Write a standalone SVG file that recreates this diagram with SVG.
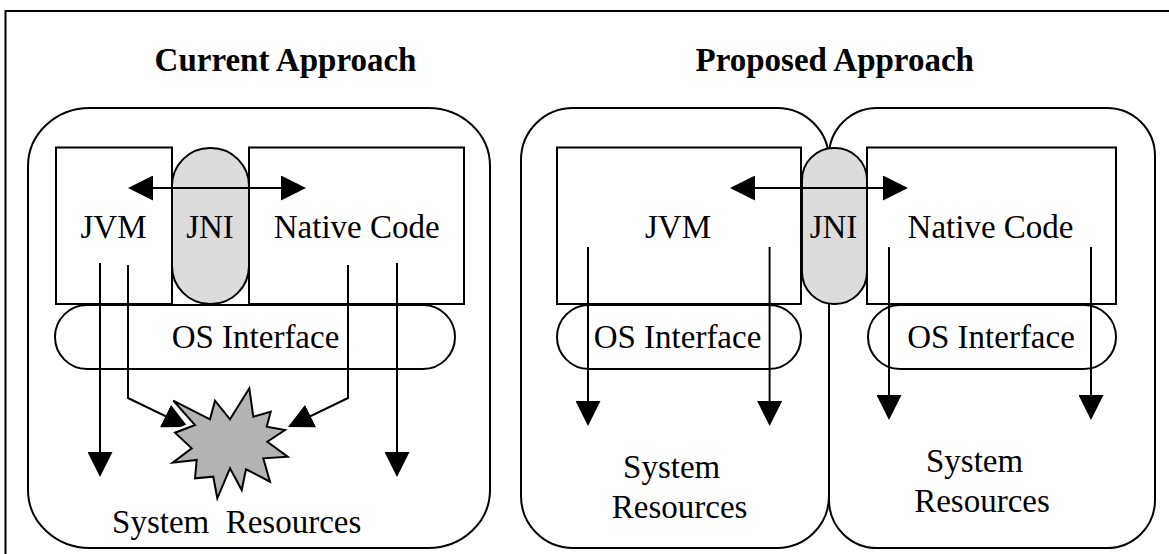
<svg xmlns="http://www.w3.org/2000/svg" xmlns:xlink="http://www.w3.org/1999/xlink" width="1169" height="554" viewBox="0 0 1169 554">
<style>
.ln{fill:none;stroke:#000;stroke-width:2}
.box{fill:#fff;stroke:#000;stroke-width:2}
.jni{fill:#dcdcdc;stroke:#000;stroke-width:2}
.t{font-family:"Liberation Serif","Times New Roman",serif;font-size:33px;fill:#000;text-anchor:middle}
.title{font-weight:bold}
.arr{fill:none;stroke:#000;stroke-width:2;marker-end:url(#ah)}
.dbl{fill:none;stroke:#000;stroke-width:2;marker-end:url(#ah);marker-start:url(#ahs)}
</style>
<defs>
<marker id="ah" markerUnits="userSpaceOnUse" markerWidth="25" markerHeight="25" refX="20" refY="12.5" orient="auto"><path d="M0,0 L25,12.5 L0,25 z" fill="#000"/></marker>
<marker id="ahs" markerUnits="userSpaceOnUse" markerWidth="25" markerHeight="25" refX="20" refY="12.5" orient="auto-start-reverse"><path d="M0,0 L25,12.5 L0,25 z" fill="#000"/></marker>
<polygon id="star" points="173.3,400.7 210,419.3 215,400.7 230,419.3 249.3,388.3 253.3,416.7 270.7,411.7 266.7,426.7 285,430 267.3,441.7 287.7,456.7 263.3,458.3 270,481.7 246,469.3 241.7,490 230,468.3 217.3,498.3 213.3,476.7 195,478.3 196.7,460 172.7,462.7 191.7,448.3 175,432.7 195,425"/>
</defs>
<rect width="1169" height="554" fill="#fff"/>
<path id="frame" class="ln" d="M5.5,554 V11 H1169"/>

<g id="current">
<text class="t title" x="285.5" y="71">Current Approach</text>
<g id="cur-panel"><rect class="box" x="28" y="108" width="462" height="440" rx="62" ry="58"/></g>
<g id="cur-jvm"><rect class="box" x="56" y="147.5" width="116" height="156.5"/><text class="t" x="113.5" y="238">JVM</text></g>
<g id="cur-native"><rect class="box" x="249" y="147.5" width="215" height="156.5"/><text class="t" x="356.7" y="238">Native Code</text></g>
<g id="cur-jni"><rect class="jni" x="172" y="148" width="77" height="156" rx="38" ry="38"/><text class="t" x="210" y="238">JNI</text></g>
<g id="cur-os"><rect class="box" x="55" y="305" width="400" height="64" rx="32" ry="32"/><text class="t" x="255.5" y="348">OS Interface</text></g>
<g id="cur-res"><text class="t" x="236.7" y="533" style="white-space:pre">System  Resources</text></g>
</g>

<g id="proposed">
<text class="t title" x="834.7" y="71">Proposed Approach</text>
<g id="pro-panel-left"><rect class="box" x="521" y="108" width="308" height="440" rx="52" ry="52"/></g>
<g id="pro-panel-right"><rect class="box" x="829" y="108" width="326" height="440" rx="48" ry="48"/></g>
<g id="pro-jvm"><rect class="box" x="557" y="147.5" width="244" height="156.5"/><text class="t" x="678" y="238">JVM</text></g>
<g id="pro-native"><rect class="box" x="867" y="147.5" width="249" height="156.5"/><text class="t" x="990.5" y="238">Native Code</text></g>
<g id="pro-jni"><rect class="jni" x="802" y="148" width="65" height="156" rx="32" ry="32"/><text class="t" x="833.5" y="238">JNI</text></g>
<g id="pro-os-left"><rect class="box" x="557" y="305" width="244" height="64" rx="32" ry="32"/><text class="t" x="677.5" y="348">OS Interface</text></g>
<g id="pro-os-right"><rect class="box" x="868" y="305" width="248" height="64" rx="32" ry="32"/><text class="t" x="991" y="348">OS Interface</text></g>
<g id="pro-res-left"><text class="t" x="671.7" y="478">System</text><text class="t" x="679.6" y="518">Resources</text></g>
<g id="pro-res-right"><text class="t" x="974.6" y="472">System</text><text class="t" x="982" y="512">Resources</text></g>
</g>

<g id="connectors">
<path class="dbl" d="M133,188 H301"/>
<path class="arr" d="M100,263 V472"/>
<path class="arr" d="M128,265 V398 L183.5,424.8"/>
<path class="arr" d="M348,265 V398 L292.5,424.8"/>
<path class="arr" d="M397,263 V472"/>
<path class="dbl" d="M735,188 H903"/>
<path class="arr" d="M588,247 V421"/>
<path class="arr" d="M769.6,247 V421"/>
<path class="arr" d="M889,247 V415"/>
<path class="arr" d="M1091,247 V415"/>
</g>

<g id="conflict">
<use xlink:href="#star" fill="none" stroke="#fff" stroke-width="7" stroke-linejoin="round"/>
<use xlink:href="#star" fill="#b3b3b3" stroke="#000" stroke-width="2" stroke-linejoin="miter"/>
</g>
</svg>
